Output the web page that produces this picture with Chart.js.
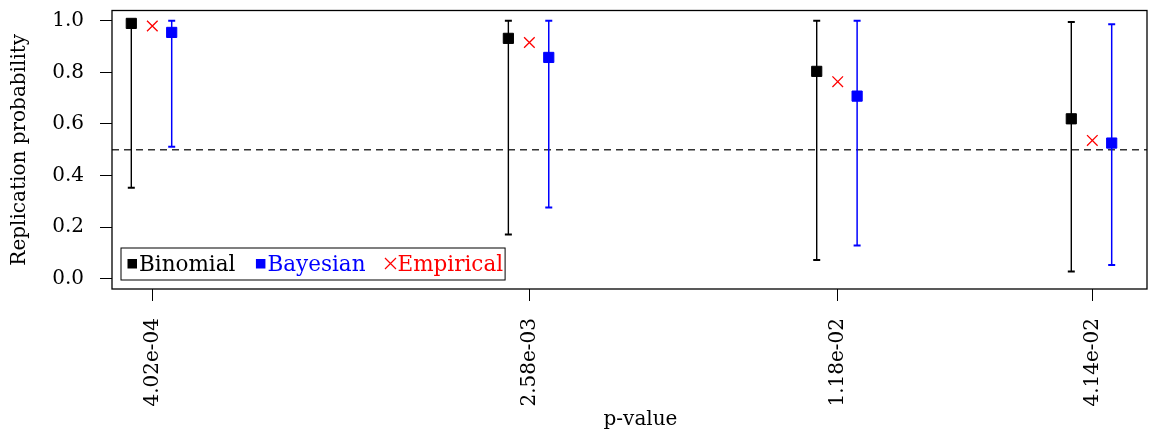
<!DOCTYPE html>
<html>
<head>
<meta charset="utf-8">
<script src="https://cdn.jsdelivr.net/npm/chart.js@4/dist/chart.umd.min.js"></script>
<style>
  html, body { margin: 0; padding: 0; background: #fff; }
  #wrap { width: 1159px; height: 433px; }
</style>
</head>
<body>
<div id="wrap"><canvas id="chart"></canvas></div>
<script>
const pValues = [4.02e-4, 2.58e-3, 1.18e-2, 4.14e-2];
const pLabels = ['4.02e-04', '2.58e-03', '1.18e-02', '4.14e-02'];
const binomialEst = [0.990, 0.932, 0.804, 0.620];
const binomialLo = [0.353, 0.171, 0.072, 0.028];
const binomialHi = [1.000, 1.000, 1.000, 0.995];
const bayesianEst = [0.955, 0.858, 0.708, 0.526];
const bayesianLo = [0.512, 0.276, 0.129, 0.053];
const bayesianHi = [1.000, 1.000, 1.000, 0.987];
const empirical = [0.980, 0.916, 0.764, 0.536];
const yTicks = [0, 0.2, 0.4, 0.6, 0.8, 1.0];
const refLine = 0.5;

const FONT = 'DejaVu Serif';
const logP = pValues.map(p => Math.log10(p));
// side-by-side dodge, in log10 units
const dodgeLeft = -0.045;
const dodgeRight = 0.0415;
const xMin = -3.4821, xMax = -1.2659;

const pts = (vals, dx) => vals.map((v, i) => ({ x: logP[i] + dx, y: v }));
const bars = (lo, hi, dx) => lo.flatMap((v, i) => [
    { x: logP[i] + dx, y: v },
    { x: logP[i] + dx, y: hi[i] },
    { x: logP[i] + dx, y: null }
]);

const legendItems = [
    { text: 'Binomial', color: '#000000', style: 'rect' },
    { text: 'Bayesian', color: '#0000ff', style: 'rect' },
    { text: 'Empirical', color: '#ff0000', style: 'cross' }
];

const framePlugin = {
    id: 'frame',
    afterDraw(chart) {
        const { ctx, chartArea: a } = chart;
        ctx.save();
        ctx.strokeStyle = '#000';
        ctx.lineWidth = 1.3;
        ctx.strokeRect(a.left, a.top, a.right - a.left, a.bottom - a.top);

        // x axis title, a little right of centre like the original
        ctx.font = '20px "' + FONT + '"';
        ctx.fillStyle = '#000';
        ctx.textAlign = 'center';
        ctx.textBaseline = 'middle';
        ctx.fillText('p-value', (a.left + a.right) / 2 + 11, 420);

        // legend box, bottom-left inside the plot
        const bx = a.left + 9, by = a.bottom - 41, bh = 32;
        ctx.font = '21.5px "' + FONT + '"';
        let x = bx + 7;
        const cy = by + bh / 2;
        const parts = [];
        legendItems.forEach((it, i) => {
            const sx = x + 4;
            x += 11;
            const tx = x;
            x += ctx.measureText(it.text).width;
            parts.push({ it, sx, tx });
            x += i < legendItems.length - 1 ? 21 : 2;
        });
        ctx.fillStyle = '#fff';
        ctx.fillRect(bx, by, x - bx, bh);
        ctx.lineWidth = 1;
        ctx.strokeRect(bx, by, x - bx, bh);
        parts.forEach(({ it, sx, tx }) => {
            ctx.fillStyle = it.color;
            ctx.strokeStyle = it.color;
            if (it.style === 'rect') {
                ctx.fillRect(sx - 4.5, cy - 5, 9.5, 9.5);
            } else {
                ctx.lineWidth = 1.2;
                ctx.beginPath();
                ctx.moveTo(sx - 5.5, cy - 6); ctx.lineTo(sx + 5.5, cy + 5);
                ctx.moveTo(sx + 5.5, cy - 6); ctx.lineTo(sx - 5.5, cy + 5);
                ctx.stroke();
            }
            ctx.textBaseline = 'middle';
            ctx.textAlign = 'left';
            ctx.fillText(it.text, tx, cy + 1);
        });
        ctx.restore();
    }
};

new Chart(document.getElementById('chart'), {
    type: 'scatter',
    data: {
        datasets: [
            {
                label: 'Binomial',
                data: pts(binomialEst, dodgeLeft),
                pointStyle: 'rect', pointRadius: 7.2,
                backgroundColor: '#000', borderColor: '#000', borderWidth: 1
            },
            {
                label: 'Bayesian',
                data: pts(bayesianEst, dodgeRight),
                pointStyle: 'rect', pointRadius: 7.2,
                backgroundColor: '#0000ff', borderColor: '#0000ff', borderWidth: 1
            },
            {
                label: 'Empirical',
                data: pts(empirical, 0),
                pointStyle: 'crossRot', pointRadius: 7.5,
                borderColor: '#ff0000', borderWidth: 1.3
            },
            {
                label: 'Binomial interval',
                data: bars(binomialLo, binomialHi, dodgeLeft),
                showLine: true, spanGaps: false,
                borderColor: '#000', borderWidth: 1.4,
                pointStyle: 'line', pointRadius: 3.5, pointBorderWidth: 2
            },
            {
                label: 'Bayesian interval',
                data: bars(bayesianLo, bayesianHi, dodgeRight),
                showLine: true, spanGaps: false,
                borderColor: '#0000ff', borderWidth: 1.5,
                pointStyle: 'line', pointRadius: 3.5, pointBorderWidth: 2
            },
            {
                label: 'Reference',
                data: [{ x: xMin, y: refLine }, { x: xMax, y: refLine }],
                showLine: true, borderColor: '#333', borderWidth: 1.3,
                borderDash: [7, 5], pointRadius: 0
            }
        ]
    },
    options: {
        responsive: true,
        maintainAspectRatio: false,
        animation: false,
        events: [],
        layout: { padding: { top: 10.5, right: 12, left: 0, bottom: 0 } },
        plugins: { legend: { display: false }, tooltip: { enabled: false } },
        scales: {
            x: {
                type: 'linear', min: xMin, max: xMax,
                afterFit: s => { s.height = 144; s.paddingLeft = 0; s.paddingRight = 0; },
                afterBuildTicks: s => { s.ticks = logP.map(v => ({ value: v })); },
                border: { display: false },
                grid: { drawOnChartArea: false, drawTicks: true, tickLength: 12, tickColor: '#000', lineWidth: 1 },
                ticks: {
                    autoSkip: false, minRotation: 90, maxRotation: 90, padding: 17,
                    color: '#000', font: { family: FONT, size: 20 },
                    callback: (v, i) => pLabels[i]
                }
            },
            y: {
                min: -0.04, max: 1.04,
                afterFit: s => { s.width = 112; s.paddingTop = 0; s.paddingBottom = 0; },
                afterBuildTicks: s => { s.ticks = yTicks.map(v => ({ value: v })); },
                border: { display: false },
                grid: { drawOnChartArea: false, drawTicks: true, tickLength: 12, tickColor: '#000', lineWidth: 1 },
                ticks: {
                    padding: 16, color: '#000', font: { family: FONT, size: 20 },
                    callback: v => v.toFixed(1)
                },
                title: { display: true, text: 'Replication probability', color: '#000', font: { family: FONT, size: 20 }, padding: { top: 8, bottom: 0 } }
            }
        }
    },
    plugins: [framePlugin]
});
</script>
</body>
</html>
